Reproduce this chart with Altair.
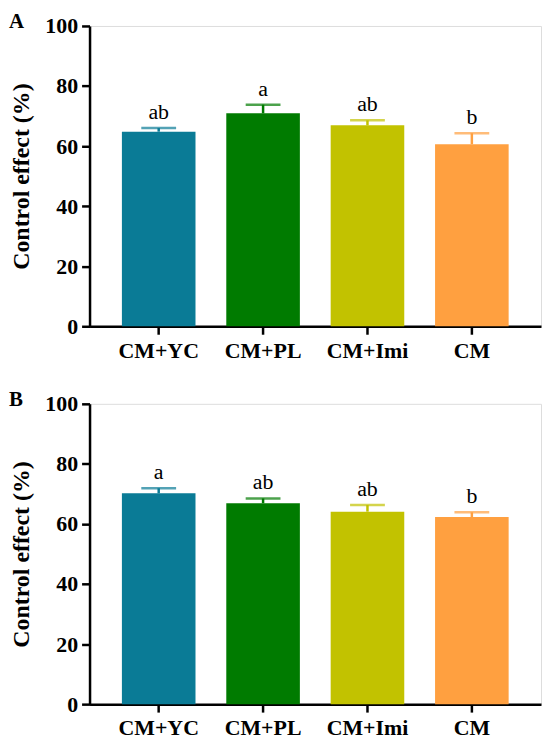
import altair as alt
import pandas as pd

groups = ["CM+YC", "CM+PL", "CM+Imi", "CM"]
colors = ["#0A7B96", "#007B00", "#C2C200", "#FFA040"]

a_means = [64.8, 70.9, 66.9, 60.6]
a_errs = [1.2, 2.9, 1.7, 3.7]
a_letters = ["ab", "a", "ab", "b"]

b_means = [70.2, 66.9, 64.1, 62.3]
b_errs = [1.7, 1.6, 2.2, 1.6]
b_letters = ["a", "ab", "ab", "b"]

FONT = "Liberation Serif"


def panel(means, errs, letters, label):
    df = pd.DataFrame({
        "group": groups,
        "mean": means,
        "upper": [m + e for m, e in zip(means, errs)],
        "letter": letters,
    })
    x = alt.X(
        "group:N", sort=groups, title=None,
        scale=alt.Scale(paddingInner=0.295, paddingOuter=0.31),
        axis=alt.Axis(labelAngle=0, labelFont=FONT, labelFontSize=22,
                      labelFontWeight="bold", labelColor="black",
                      tickSize=8, tickWidth=2.5, tickColor="black",
                      domainColor="black", domainWidth=2.5, labelPadding=6),
    )
    color = alt.Color("group:N", scale=alt.Scale(domain=groups, range=colors),
                      legend=None)
    base = alt.Chart(df)
    bars = base.mark_bar().encode(
        x=x,
        y=alt.Y("mean:Q", scale=alt.Scale(domain=[0, 100]),
                axis=alt.Axis(values=[0, 20, 40, 60, 80, 100], grid=False,
                              title="Control effect (%)", titleFont=FONT,
                              titleFontSize=24, titleFontWeight="bold",
                              titleColor="black", titlePadding=11,
                              labelFont=FONT, labelFontSize=22,
                              labelFontWeight="bold", labelColor="black",
                              tickSize=8, tickWidth=2.5, tickColor="black",
                              domainColor="black", domainWidth=2.5,
                              labelPadding=4)),
        color=color,
    )
    rule = base.mark_rule(strokeWidth=2.5).encode(
        x=x, y="mean:Q", y2="upper:Q", color=color)
    cap = base.mark_tick(thickness=2.5, size=35).encode(
        x=x, y="upper:Q", color=color)
    txt = base.mark_text(font=FONT, fontSize=22, color="black",
                         baseline="alphabetic", dy=-9).encode(
        x=x, y="upper:Q", text="letter:N")
    return alt.layer(bars, rule, cap, txt).properties(
        width=454, height=302,
        title=alt.TitleParams(label, anchor="start", font=FONT,
                              fontSize=21, fontWeight="bold", color="black",
                              offset=0, dy=17, dx=-1),
    )


chart = alt.vconcat(
    panel(a_means, a_errs, a_letters, "A"),
    panel(b_means, b_errs, b_letters, "B"),
    spacing=26,
).configure_view(stroke="black", strokeWidth=2.5).configure(
    background="white", padding=0)

chart.save("out.html", embed_options={"renderer": "svg", "actions": False})
